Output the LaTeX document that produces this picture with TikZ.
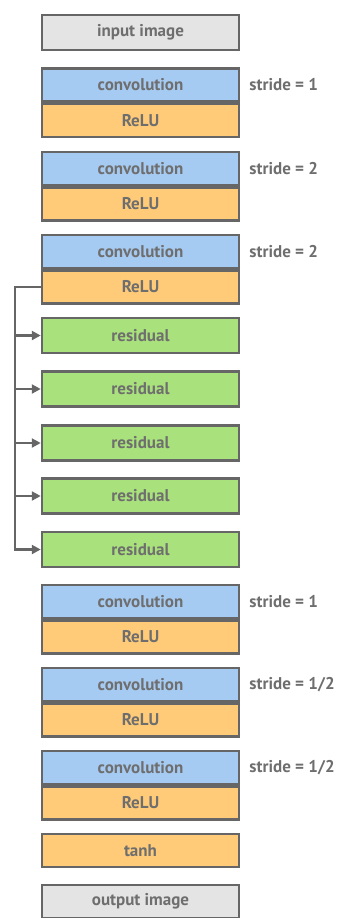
\documentclass[tikz,border=0pt]{standalone}
\usepackage{fontspec}
\setmainfont{PT Sans}
\usepackage{xcolor}
\usetikzlibrary{arrows.meta, positioning}
\definecolor{boxgray}{HTML}{E4E4E4}
\definecolor{convblue}{HTML}{A6CBF2}
\definecolor{reluorange}{HTML}{FFCB78}
\definecolor{resgreen}{HTML}{A9E27C}
\definecolor{edgegray}{HTML}{666666}
\definecolor{textgray}{HTML}{6E6E6E}

\begin{document}
\begin{tikzpicture}[x=1pt, y=-1pt,
  layer/.style={draw=edgegray, line width=2.5pt, minimum width=197pt, minimum height=33pt,
    inner sep=0pt, text=textgray, font=\bfseries\fontsize{17}{17}\selectfont},
  io/.style={layer, fill=boxgray, minimum height=35pt},
  conv/.style={layer, fill=convblue},
  relu/.style={layer, fill=reluorange},
  res/.style={layer, fill=resgreen, minimum height=35pt},
  stridelabel/.style={anchor=west, inner sep=0pt, text=textgray, font=\bfseries\fontsize{17}{17}\selectfont},
  link/.style={draw=edgegray, line width=2.5pt, -{Triangle[length=9pt, width=9pt]}}]
\useasboundingbox (0,0) rectangle (341,918);

% input
\node[io] (in) at (140.5,32.5) {input image};

% conv + ReLU blocks
\foreach \i/\y/\s in {1/85/1, 2/168.5/2, 3/251.5/2, 4/601.5/1, 5/684.5/{1/2}, 6/767.5/{1/2}} {
  \node[conv] (c\i) at (140.5,\y) {convolution};
  \node[relu, below=0pt of c\i] (r\i) {ReLU};
  \node[stridelabel, right=9pt of c\i] (s\i) {stride = \s};
}

% residual blocks
\foreach \i/\y in {1/335.5, 2/389, 3/443, 4/496, 5/549.5}
  \node[res] (res\i) at (140.5,\y) {residual};

% skip rail
\coordinate (rail) at (15,0);
\draw[link] (r3.west) -- (r3.west -| rail) |- (res5.west);
\foreach \i in {1,...,4}
  \draw[link] (res\i.west -| rail) -- (res\i.west);

% output
\node[relu] (tanh) at (140.5,850.5) {tanh};
\node[io, minimum height=33pt] (out) at (140.5,901.5) {output image};
\end{tikzpicture}
\end{document}
